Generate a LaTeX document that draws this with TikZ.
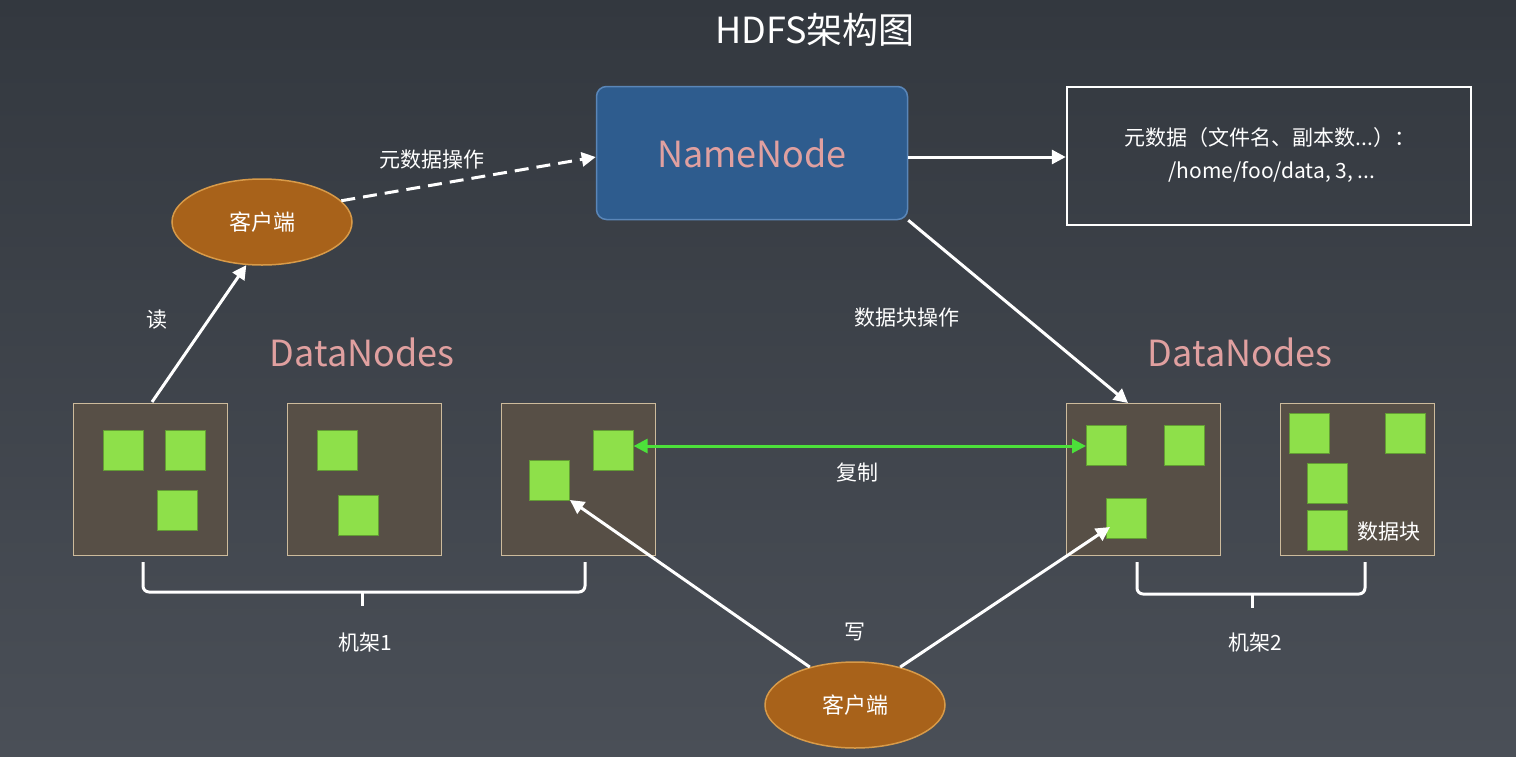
\documentclass[tikz,border=0pt]{standalone}
\usepackage{fontspec}
\setmainfont{Noto Sans CJK SC}
\usetikzlibrary{arrows.meta,shapes.geometric}
\definecolor{bgtop}{HTML}{33383F}
\definecolor{bgbot}{HTML}{4A4F57}
\definecolor{nnblue}{HTML}{2E5C8E}
\definecolor{nnborder}{HTML}{5A86B8}
\definecolor{pinktxt}{HTML}{E0A0A0}
\definecolor{cli}{HTML}{A8621A}
\definecolor{cliborder}{HTML}{D89A48}
\definecolor{dnfill}{HTML}{574F46}
\definecolor{dnborder}{HTML}{CDBB9C}
\definecolor{blk}{HTML}{8EE04A}
\definecolor{repl}{HTML}{4CE03A}
\begin{document}
\begin{tikzpicture}[x=1pt,y=-1pt,
  wtxt/.style={text=white,font=\fontsize{21}{24}\selectfont},
  arr/.style={draw=white,line width=3pt,-{Triangle[length=14pt,width=14pt]}},
  client/.style={ellipse,fill=cli,draw=cliborder,line width=1.5pt,minimum width=180pt,minimum height=86pt,text=white,font=\fontsize{22}{24}\selectfont},
  dn/.style={draw=dnborder,fill=dnfill,line width=1.2pt,minimum width=154pt,minimum height=152pt,anchor=north west},
  blkbox/.style={fill=blk,draw=blk!70!black,line width=0.6pt,minimum size=40pt,anchor=north west},
  brace/.style={draw=white,line width=3pt,rounded corners=6pt},
  dnlabel/.style={text=pinktxt,font=\fontsize{36}{40}\selectfont}]
\shade[top color=bgtop,bottom color=bgbot] (0,0) rectangle (1516,756);
\useasboundingbox (0,0) rectangle (1516,756);
\node[text=white,font=\fontsize{36}{40}\selectfont] (title) at (815,30) {HDFS架构图};
\node[draw=nnborder,fill=nnblue,rounded corners=10pt,line width=1.5pt,minimum width=311pt,minimum height=133pt,text=pinktxt,font=\fontsize{36}{40}\selectfont] (nn) at (752,153) {NameNode};
\node[draw=white,line width=2.5pt,minimum width=404pt,minimum height=138pt] (meta) at (1269,156) {};
\node[wtxt] (m1) at (1270,138) {元数据（文件名、副本数...）：};
\node[wtxt] (m2) at (1272,172) {/home/foo/data, 3, ...};
\draw[arr] (nn.east |- 0,157) -- (meta.west |- 0,157);
\node[client] (c1) at (262,222) {客户端};
\draw[arr,dashed,dash pattern=on 14pt off 8pt] (c1.15) -- (nn.west |- 0,157);
\node[wtxt] (l1) at (432,160) {元数据操作};
\node[dnlabel] (dl1) at (362,352) {DataNodes};
\node[dnlabel] (dl2) at (1240,352) {DataNodes};
\node[dn] (d1) at (73,403) {};
\node[dn] (d2) at (287,403) {};
\node[dn] (d3) at (501,403) {};
\node[dn] (d4) at (1066,403) {};
\node[dn] (d5) at (1280,403) {};
\node[blkbox] at (103,430) {};
\node[blkbox] at (165,430) {};
\node[blkbox] at (157,490) {};
\node[blkbox] at (317,430) {};
\node[blkbox] at (338,495) {};
\node[blkbox] (b3a) at (529,460) {};
\node[blkbox] (b3b) at (593,430) {};
\node[blkbox] (b4a) at (1086,425) {};
\node[blkbox] at (1164,425) {};
\node[blkbox] (b4c) at (1106,498) {};
\node[blkbox] at (1289,413) {};
\node[blkbox] at (1385,413) {};
\node[blkbox] at (1307,463) {};
\node[blkbox] at (1307,510) {};
\node[wtxt] (sj) at (1389,532) {数据块};
\draw[arr] (152,402) -- (c1.250);
\node[wtxt] (rd) at (157,320) {读};
\draw[arr] (nn.south east) -- (1128,403);
\node[wtxt] (l2) at (907,318) {数据块操作};
\draw[draw=repl,line width=3pt,{Triangle[length=14pt,width=14pt]}-{Triangle[length=14pt,width=14pt]}] (b3b.east |- 0,446) -- (b4a.west |- 0,446);
\node[wtxt] (fz) at (857,473) {复制};
\draw[brace] (143,562) -- (143,592) -- (585,592) -- (585,562);
\draw[brace] (362,592) -- (362,606);
\node[wtxt] (r1) at (365,643) {机架1};
\draw[brace] (1137,562) -- (1137,594) -- (1365,594) -- (1365,562);
\draw[brace] (1252,594) -- (1252,608);
\node[wtxt] (r2) at (1255,643) {机架2};
\node[client] (c2) at (855,705) {客户端};
\node[wtxt] (w) at (855,632) {写};
\draw[arr] (c2.140) -- (570,500);
\draw[arr] (c2.40) -- (1110,527);
\end{tikzpicture}
\end{document}
